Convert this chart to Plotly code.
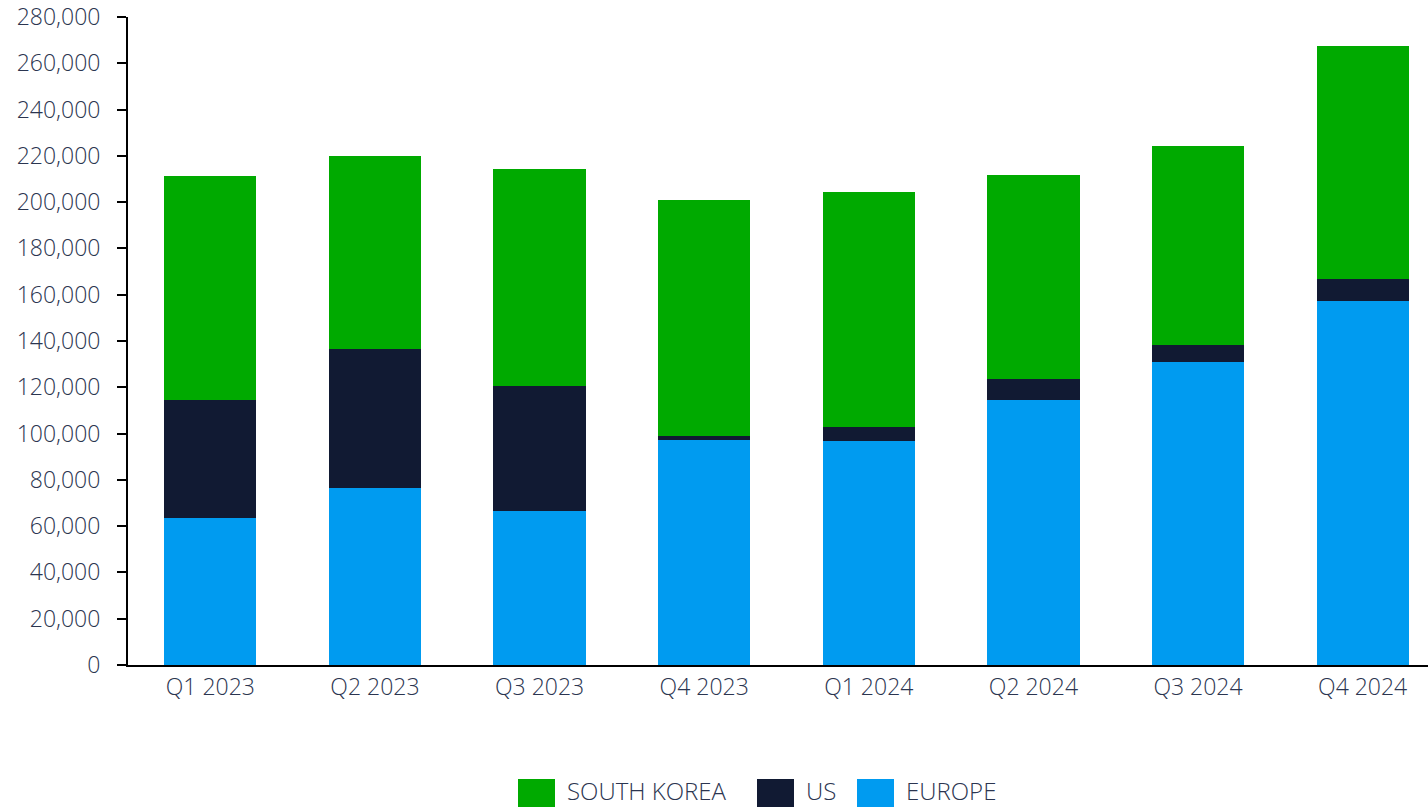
import plotly.graph_objects as go

quarters = ["Q1 2023", "Q2 2023", "Q3 2023", "Q4 2023", "Q1 2024", "Q2 2024", "Q3 2024", "Q4 2024"]
europe = [63700, 76600, 66500, 97200, 96800, 114400, 130900, 157200]
us = [51000, 60000, 54100, 1700, 6200, 9300, 7200, 9600]
south_korea = [96600, 83400, 93700, 102100, 101400, 88100, 86200, 100700]
y_ticks = list(range(0, 280001, 20000))

series = [
    ("EUROPE", europe, "#009BF0"),
    ("US", us, "#111A33"),
    ("SOUTH KOREA", south_korea, "#00AA00"),
]

text_color = "#2b3550"
font_family = "Open Sans, Noto Sans, sans-serif"

fig = go.Figure()
for name, vals, color in series:
    fig.add_trace(go.Bar(name=name, x=quarters, y=vals, showlegend=False,
                         marker=dict(color=color, line=dict(width=0))))

# custom legend (large swatches), positions in paper coordinates
PX0, PW, PY0, PH = 128.0, 1300.0, 665.0, 648.0
def px_x(px):
    return (px - PX0) / PW
def px_y(py):
    return (PY0 - py) / PH

legend_items = [("SOUTH KOREA", "#00AA00", 518, 567), ("US", "#111A33", 757, 806), ("EUROPE", "#009BF0", 857, 906)]
for label, color, sx, tx in legend_items:
    fig.add_shape(type="rect", xref="paper", yref="paper",
                  x0=px_x(sx), x1=px_x(sx + 37), y0=px_y(779), y1=px_y(816),
                  fillcolor=color, line=dict(width=0), layer="above")
    fig.add_annotation(text=label, xref="paper", yref="paper", x=px_x(tx - 2), y=px_y(790),
                       xanchor="left", yanchor="middle", showarrow=False,
                       font=dict(family=font_family, size=24, color=text_color, weight=300))

fig.update_layout(
    barmode="stack",
    bargap=0.44,
    width=1428,
    height=807,
    margin=dict(l=128, r=0, t=17, b=142),
    plot_bgcolor="white",
    paper_bgcolor="white",
    font=dict(family=font_family, size=23, color=text_color, weight=300),
    showlegend=False,
    xaxis=dict(
        range=[-0.5, 7.397],
        showline=True, linecolor="black", linewidth=2,
        ticks="", showgrid=False,
        tickfont=dict(size=23, color=text_color),
    ),
    yaxis=dict(
        range=[0, 280000],
        tickvals=y_ticks,
        tickformat=",",
        showline=True, linecolor="black", linewidth=2,
        ticks="outside", ticklen=9, tickwidth=2, tickcolor="black",
        showgrid=False, zeroline=False,
        ticklabelstandoff=12,
        tickfont=dict(size=23, color=text_color),
    ),
)

fig.write_html("out.html", config={"displayModeBar": False},
               post_script="document.body.style.margin='0px';")
